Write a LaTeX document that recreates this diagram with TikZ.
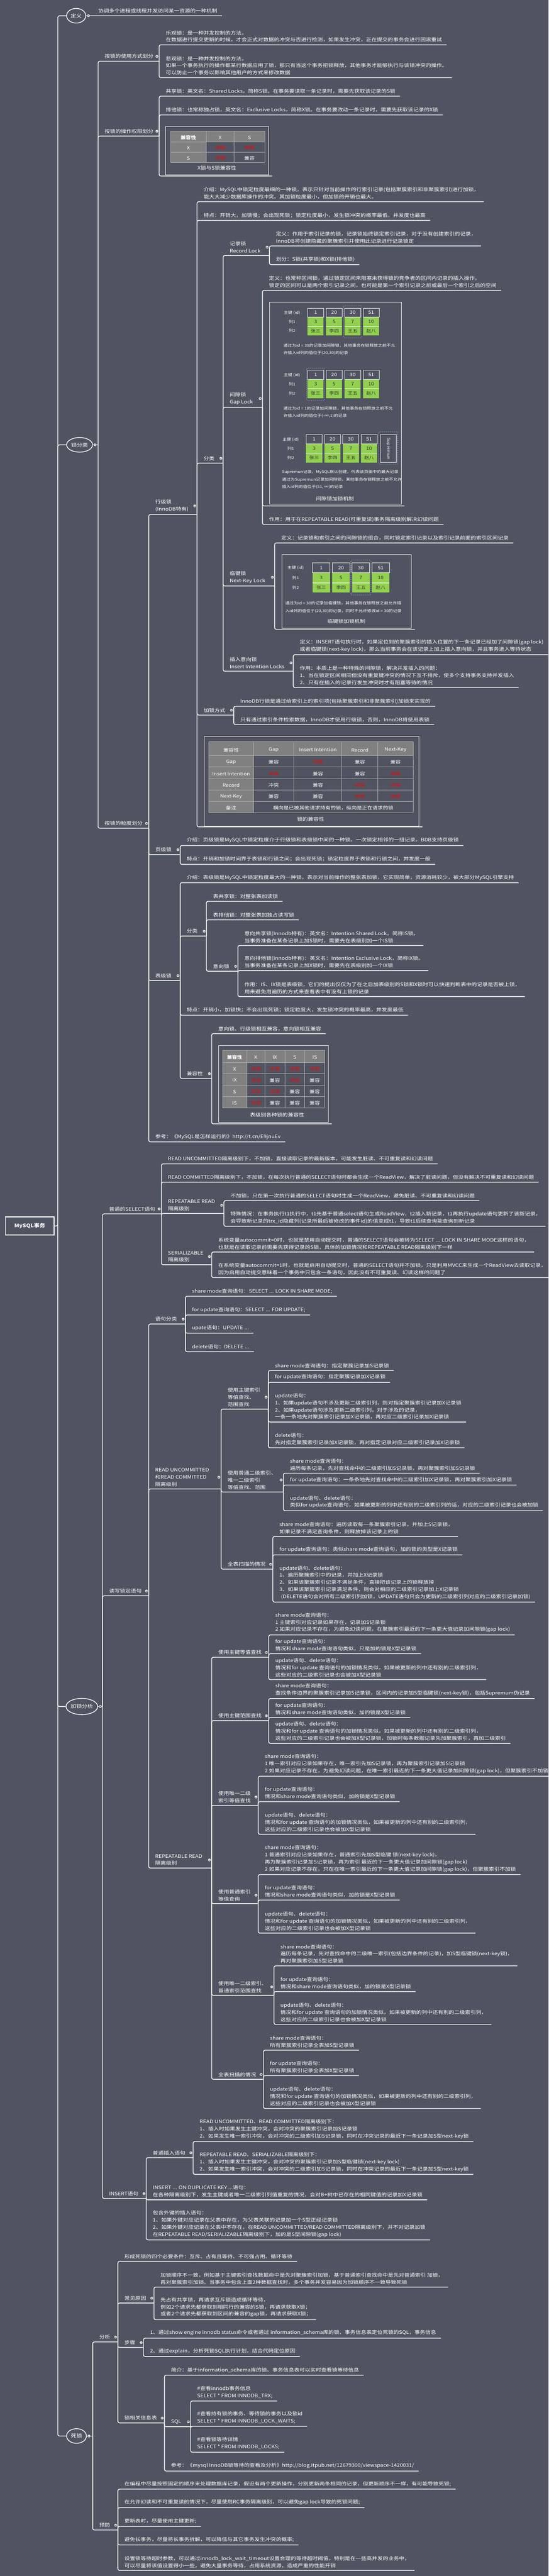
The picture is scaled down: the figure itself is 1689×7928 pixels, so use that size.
\documentclass[tikz,border=0pt]{standalone}
\usepackage{fontspec}
\setmainfont{Noto Sans CJK SC}[FakeStretch=1.15]
\usetikzlibrary{shapes.geometric}
\definecolor{bg}{RGB}{80,84,97}
\definecolor{cellgray}{RGB}{128,128,128}
\definecolor{gridc}{RGB}{168,168,168}
\definecolor{grn}{RGB}{146,208,80}
\definecolor{rd}{RGB}{255,0,0}
\definecolor{dashc}{RGB}{160,170,210}
\tikzset{
  conn/.style={draw=white, line width=2.2pt, rounded corners=5pt},
  txt/.style={text=white, font=\fontsize{14.5}{22}\selectfont, align=left, inner sep=0pt, anchor=south west},
  mk/.style={circle, draw=white!60!gray, fill=white!88!gray, minimum size=8pt, inner sep=0pt, line width=0.5pt,
    path picture={\draw[black!65, line width=0.9pt] ([xshift=-2.4pt]path picture bounding box.center) -- ([xshift=2.4pt]path picture bounding box.center);}},
  circ/.style={ellipse, draw=white, line width=2.2pt, text=white, font=\fontsize{15}{18}\selectfont, inner sep=0pt},
  imgbox/.style={draw=white!85!gray, line width=0.8pt, inner sep=0pt, anchor=north west},
  gridl/.style={draw=gridc, line width=1.1pt},
  ct/.style={text=white, font=\fontsize{14}{16}\selectfont, inner sep=0pt},
  cr/.style={ct, text=rd},
  capt/.style={text=white, font=\fontsize{14.5}{16}\selectfont, inner sep=0pt},
  smalltxt/.style={text=white, font=\fontsize{11.5}{13}\selectfont, inner sep=0pt, anchor=west},
  celltop/.style={draw=white!78!gray, fill=bg, line width=1pt},
  dnum/.style={text=white, font=\fontsize{14}{16}\selectfont, inner sep=0pt},
  dgr/.style={text=black!80, font=\fontsize{14}{16}\selectfont, inner sep=0pt},
  dgrs/.style={text=black!80, font=\fontsize{13}{15}\selectfont, inner sep=0pt},
  dlab/.style={text=white, font=\fontsize{11.5}{13}\selectfont, inner sep=0pt},
  dsh/.style={draw=dashc, dashed, line width=1pt, rounded corners=4pt},
}
% leaf: name, parent x, parent y, own y, text
\newcommand\mmLeaf[5]{%
  \node[txt] (#1) at ({#2+20},{#4-8}) {#5};
  \draw[conn] (#2,#3) -- (#2,#4) -- ([xshift=14pt]#1.east |- 0,#4);
}
% parent: name, parent x, parent y, own y, end x, text
\newcommand\mmPar[6]{%
  \node[txt] (#1) at ({#2+20},{#4-8}) {#6};
  \draw[conn] (#2,#3) -- (#2,#4) -- (#5,#4);
  \coordinate (#1-m) at ({#5-7},0);
  \node[mk] at (#1.center -| #1-m) {};
}
% record diagram: x0, y0, pitch, w, h, label x
\newcommand\mmRec[6]{%
  \foreach \va/\ia in {1/0,20/1,30/2,51/3}{%
    \draw[celltop] ({#1+\ia*#3},#2) rectangle ++(#4,#5);
    \node[dnum] at ({#1+\ia*#3+#4/2},{#2+#5/2}) {\va};}
  \foreach \va/\na/\ia in {3/张三/0,5/李四/1,7/王五/2,10/赵八/3}{%
    \fill[grn] ({#1+\ia*#3},{#2+#5}) rectangle ++(#4,{2*#5});
    \draw[white,line width=1pt] ({#1+\ia*#3},{#2+2*#5}) -- ++(#4,0);
    \node[dgr] at ({#1+\ia*#3+#4/2},{#2+1.5*#5}) {\va};
    \node[dgrs] at ({#1+\ia*#3+#4/2},{#2+2.5*#5}) {\na};}
  \node[dlab] at (#6,{#2+#5/2}) {主键 (id)};
  \node[dlab] at (#6,{#2+1.5*#5}) {列1};
  \node[dlab] at (#6,{#2+2.5*#5}) {列2};
}
\begin{document}
\begin{tikzpicture}[x=1pt,y=-1pt]
\useasboundingbox (0,0) rectangle (1689,7928);
\fill[bg] (0,0) rectangle (1689,7928);

% ===== root and level 1 =====
\node[draw=white, line width=2.5pt, minimum width=150pt, minimum height=55pt, text=white, font=\bfseries\fontsize{15}{18}\selectfont] (root) at (91.5,3773) {MySQL事务};
\node[circ, minimum width=59pt, minimum height=45pt] (c1) at (234.5,48.5) {定义};
\node[circ, minimum width=80pt, minimum height=45pt] (c2) at (245,1369) {锁分类};
\node[circ, minimum width=94pt, minimum height=50pt] (c3) at (252,5252) {加锁分析};
\node[circ, minimum width=61pt, minimum height=45pt] (c4) at (235.5,7497) {死锁};
\draw[conn] (root.east) -- (178,3773) -- (178,48.5) -- (c1.west);
\draw[conn] (178,3773) -- (178,1369) -- (c2.west);
\draw[conn] (178,3773) -- (178,5252) -- (c3.west);
\draw[conn] (178,3773) -- (178,7497) -- (c4.west);

% ===== 定义 =====
\node[txt] (d1) at (302,40.4) {协调多个进程或线程并发访问某一资源的一种机制};
\draw[conn] (c1.east) -- ([xshift=14pt]d1.east |- c1.east);

% ===== 锁分类 =====
\draw[conn] (c2.east) -- (302,1369);
\mmPar{b1}{302}{1369}{188.6}{490}{按锁的使用方式划分}
\mmLeaf{b1a}{490}{188.6}{138}{乐观锁：是一种并发控制的方法。\\在数据进行提交更新的时候，才会正式对数据的冲突与否进行检测，如果发生冲突，正在提交的事务会进行回滚重试}
\mmLeaf{b1b}{490}{188.6}{239}{悲观锁：是一种并发控制的方法。\\如果一个事务执行的操作都某行数据应用了锁，那只有当这个事务把锁释放，其他事务才能够执行与该锁冲突的操作。\\可以防止一个事务以影响其他用户的方式来修改数据}
\mmPar{b2}{302}{1369}{418.8}{490}{按锁的操作权限划分}
\mmLeaf{b2a}{490}{418.8}{296}{共享锁：英文名：Shared Locks，简称S锁。在事务要读取一条记录时，需要先获取该记录的S锁}
\mmLeaf{b2b}{490}{418.8}{353.6}{排他锁：也常称独占锁，英文名：Exclusive Locks，简称X锁。在事务要改动一条记录时，需要先获取该记录的X锁}
\node[imgbox, minimum width=316.5pt, minimum height=149pt] (b2c) at (509.5,388.5) {};
\draw[conn] (490,418.8) -- (490,541.7) -- ([xshift=11pt]b2c.south east |- 0,541.7);
\fill[cellgray] (524.6,402.8) rectangle (815.4,436.5);
\fill[cellgray] (524.6,436.5) rectangle (635.5,500);
\foreach \yy in {402.8,436.5,468,500} \draw[gridl] (524.6,\yy) -- (815.4,\yy);
\foreach \xx in {524.6,635.5,720.6,815.4} \draw[gridl] (\xx,402.8) -- (\xx,500);
\node[ct, font=\bfseries\fontsize{14}{16}\selectfont] at (580,423) {兼容性};
\node[ct] at (678,423) {X};
\node[ct] at (768,423) {S};
\node[ct] at (580,455) {X};
\node[cr] at (678,455) {冲突};
\node[cr] at (768,455) {冲突};
\node[ct] at (580,487) {S};
\node[cr] at (678,487) {冲突};
\node[ct] at (768,487) {兼容};
\node[capt] at (668,517) {X锁与S锁兼容性};

\mmPar{b3}{302}{1369}{2549}{458}{按锁的粒度划分}

% --- 行级锁
\mmPar{r}{458}{2549}{1583.5}{606.5}{行级锁\\(InnoDB特有)}
\mmLeaf{r1}{606.5}{1583.5}{620.8}{介绍：MySQL中锁定粒度最细的一种锁，表示只针对当前操作的行索引记录(包括聚簇索引和非聚簇索引)进行加锁，\\能大大减少数据库操作的冲突。其加锁粒度最小，但加锁的开销也最大。}
\mmLeaf{r2}{606.5}{1583.5}{678.2}{特点：开销大，加锁慢；会出现死锁；锁定粒度最小，发生锁冲突的概率最低，并发度也最高}
\mmPar{rf}{606.5}{1583.5}{1425.4}{687}{分类}
\mmPar{rec}{687}{1425.4}{786.2}{829.5}{记录锁\\Record Lock}
\mmLeaf{rec1}{829.5}{786.2}{757}{定义：作用于索引记录的锁，记录锁始终锁定索引记录，对于没有创建索引的记录，\\InnoDB将创建隐藏的聚簇索引并使用此记录进行记录锁定}
\mmLeaf{rec2}{829.5}{786.2}{814.3}{划分：S锁(共享锁)和X锁(排他锁)}
\mmPar{gap}{687}{1425.4}{1253.7}{808}{间隙锁\\Gap Lock}
\mmLeaf{gap1}{808}{1253.7}{893.7}{定义：也常称区间锁，通过锁定区间来阻塞未获得锁的竞争者的区间内记录的插入操作。\\锁定的区间可以是两个索引记录之间，也可能是第一个索引记录之前或最后一个索引之后的空间}
\node[imgbox, minimum width=405pt, minimum height=623pt] (gap2) at (829.5,928.4) {};
\draw[conn] (808,1253.7) -- (808,1557) -- ([xshift=10pt]gap2.south east |- 0,1557);
\mmRec{947}{948}{57}{49.5}{28}{899}
\draw[dsh] (1058,940.5) rectangle (1113.5,1040);
\node[smalltxt] at (872.5,1063.7) {通过为id = 30的记录加间隙锁，其他事务在锁释放之前不允};
\node[smalltxt] at (872.5,1086.7) {许插入id列的值位于(20,30)的记录};
\mmRec{947}{1139.6}{57}{49.5}{28.6}{899}
\draw[dsh] (944,1132.7) rectangle (1000,1232.5);
\node[smalltxt] at (872.5,1256.7) {通过为id = 1的记录加间隙锁，其他事务在锁释放之前不允};
\node[smalltxt] at (872.5,1279.3) {许插入id列的值位于(-∞,1)的记录};
\mmRec{942.5}{1337.8}{56.4}{49.5}{28.5}{895}
\draw[draw=white!78!gray, line width=1pt] (1171,1337.8) rectangle (1220.5,1423.2);
\node[text=white, font=\fontsize{12}{14}\selectfont, rotate=-90, inner sep=0pt] at (1195.7,1380.5) {Supremun};
\draw[dsh] (1166.6,1328.8) rectangle (1224.8,1428.8);
\node[smalltxt] at (868,1453.6) {Supremun记录，MySQL默认创建，代表该页面中的最大记录};
\node[smalltxt] at (868,1475.8) {通过为Supremun记录加间隙锁，其他事务在锁释放之前不允许};
\node[smalltxt] at (868,1498) {插入id列的值位于(51, ∞)的记录};
\node[capt] at (1031,1534.3) {间隙锁加锁机制};
\mmLeaf{gap3}{808}{1253.7}{1614.2}{作用：用于在REPEATABLE READ(可重复读)事务隔离级别解决幻读问题}
\mmPar{nk}{687}{1425.4}{1803.5}{845.6}{临键锁\\Next-Key Lock}
\mmLeaf{nk1}{845.6}{1803.5}{1671}{定义：记录锁和索引之间的间隙锁的组合，同时锁定索引记录以及索引记录前面的索引区间记录}
\node[imgbox, minimum width=397.7pt, minimum height=226.5pt] (nk2) at (868,1706.5) {};
\draw[conn] (845.6,1803.5) -- (845.6,1936.8) -- ([xshift=10.8pt]nk2.south east |- 0,1936.8);
\mmRec{962}{1732}{61}{54}{30.7}{910}
\draw[dsh] (1080.5,1723.6) rectangle (1142,1831.3);
\node[smalltxt] at (878,1856) {通过为id = 30的记录加临键锁，其他事务在锁释放之前允许插};
\node[smalltxt] at (878,1880.5) {入id列的值位于(20,30)的记录，同时不允许修改id = 30的记录};
\node[capt] at (1066.5,1911.6) {临键锁加锁机制};
\mmPar{ii}{687}{1425.4}{2065.7}{902.7}{插入意向锁\\Insert Intention Locks}
\mmLeaf{ii1}{902.7}{2065.7}{2014.9}{定义：INSERT语句执行时，如果定位到的聚簇索引的插入位置的下一条记录已经加了间隙锁(gap lock)\\或者临键锁(next-key lock)，那么当前事务会在该记录上加上插入意向锁，并且事务进入等待状态}
\mmLeaf{ii2}{902.7}{2065.7}{2116}{作用：本质上是一种特殊的间隙锁，解决并发插入的问题：\\1、当在锁定区间相同但没有重复键冲突的情况下互不排斥，使多个支持事务支持并发插入\\2、只有在插入的记录行发生冲突时才有阻塞等待的情况}
\mmPar{rw}{606.5}{1583.5}{2200.7}{719.6}{加锁方式}
\mmLeaf{rw1}{719.6}{2200.7}{2173.8}{InnoDB行锁是通过给索引上的索引项(包括聚簇索引和非聚簇索引)加锁来实现的}
\mmLeaf{rw2}{719.6}{2200.7}{2229.8}{只有通过索引条件检索数据，InnoDB才使用行级锁，否则，InnoDB将使用表锁}
\node[imgbox, minimum width=661pt, minimum height=275.3pt] (rt) at (628,2265.7) {};
\draw[conn] (606.5,1583.5) -- (606.5,2544.7) -- ([xshift=11pt]rt.south east |- 0,2544.7);
\fill[cellgray] (643,2282.8) rectangle (1272,2325.5);
\fill[cellgray] (643,2325.5) rectangle (780,2501);
\foreach \yy in {2282.8,2325.5,2360.5,2395.6,2430.6,2465.7,2501} \draw[gridl] (643,\yy) -- (1272,\yy);
\foreach \xx in {643,780,1272} \draw[gridl] (\xx,2282.8) -- (\xx,2501);
\foreach \xx in {905,1052.4,1163.3} \draw[gridl] (\xx,2282.8) -- (\xx,2465.7);
\node[ct] at (711.5,2308) {兼容性};
\node[ct] at (842.5,2308) {Gap};
\node[ct] at (978.7,2308) {Insert Intention};
\node[ct] at (1107.9,2308) {Record};
\node[ct] at (1217.7,2308) {Next-Key};
\node[ct] at (711.5,2346) {Gap};
\node[ct] at (842.5,2346) {兼容};
\node[cr] at (978.7,2346) {冲突};
\node[ct] at (1107.9,2346) {兼容};
\node[ct] at (1217.7,2346) {兼容};
\node[ct] at (711.5,2381) {Insert Intention};
\node[cr] at (842.5,2381) {冲突};
\node[ct] at (978.7,2381) {兼容};
\node[ct] at (1107.9,2381) {兼容};
\node[cr] at (1217.7,2381) {冲突};
\node[ct] at (711.5,2416) {Record};
\node[ct] at (842.5,2416) {冲突};
\node[ct] at (978.7,2416) {兼容};
\node[cr] at (1107.9,2416) {冲突};
\node[cr] at (1217.7,2416) {冲突};
\node[ct] at (711.5,2451) {Next-Key};
\node[ct] at (842.5,2451) {兼容};
\node[ct] at (978.7,2451) {兼容};
\node[cr] at (1107.9,2451) {冲突};
\node[cr] at (1217.7,2451) {冲突};
\node[ct] at (711.5,2486) {备注};
\node[ct] at (1026,2486) {横向是已被其他请求持有的锁，纵向是正在请求的锁};
\node[capt] at (956.5,2520.4) {锁的兼容性};

% --- 页级锁
\mmPar{pg}{458}{2549}{2630}{554.8}{页级锁}
\mmLeaf{pg1}{554.8}{2630}{2602.4}{介绍：页级锁是MySQL中锁定粒度介于行级锁和表级锁中间的一种锁。一次锁定相邻的一组记录。BDB支持页级锁}
\mmLeaf{pg2}{554.8}{2630}{2660}{特点：开销和加锁时间界于表锁和行锁之间；会出现死锁；锁定粒度界于表锁和行锁之间，并发度一般}

% --- 表级锁
\mmPar{tb}{458}{2549}{3017.6}{554.8}{表级锁}
\mmLeaf{tb1}{554.8}{3017.6}{2716.7}{介绍：表级锁是MySQL中锁定粒度最大的一种锁，表示对当前操作的整张表加锁，它实现简单，资源消耗较少，被大部分MySQL引擎支持}
\mmPar{tbf}{554.8}{3017.6}{2880.8}{635.5}{分类}
\mmLeaf{tbf1}{635.5}{2880.8}{2774}{表共享锁：对整张表加读锁}
\mmLeaf{tbf2}{635.5}{2880.8}{2830.8}{表排他锁：对整张表加独占读写锁}
\mmPar{yx}{635.5}{2880.8}{2989}{732.5}{意向锁}
\mmLeaf{yx1}{732.5}{2989}{2909.9}{意向共享锁(Innodb特有)：英文名：Intention Shared Lock，简称IS锁。\\当事务准备在某条记录上加S锁时，需要先在表级别加一个IS锁}
\mmLeaf{yx2}{732.5}{2989}{2987}{意向排他锁(Innodb特有)：英文名：Intention Exclusive Lock，简称IX锁。\\当事务准备在某条记录上加X锁时，需要先在表级别加一个IX锁}
\mmLeaf{yx3}{732.5}{2989}{3067}{作用：IS、IX锁是表级锁，它们的提出仅仅为了在之后加表级别的S锁和X锁时可以快速判断表中的记录是否被上锁，\\用来避免用遍历的方式来查看表中有没有上锁的记录}
\mmLeaf{tb2}{554.8}{3017.6}{3124.4}{特点：开销小，加锁快；不会出现死锁；锁定粒度大，发生锁冲突的概率最高，并发度最低}
\mmPar{tbc}{554.8}{3017.6}{3319}{651.7}{兼容性}
\mmLeaf{tbc1}{651.7}{3319}{3181.2}{意向锁、行级锁相互兼容，意向锁相互兼容}
\node[imgbox, minimum width=337.4pt, minimum height=237pt] (tbc2) at (673,3216.7) {};
\draw[conn] (651.7,3319) -- (651.7,3458.8) -- ([xshift=10.6pt]tbc2.south east |- 0,3458.8);
\fill[cellgray] (685,3231.2) rectangle (999.7,3269.7);
\fill[cellgray] (685,3269.7) rectangle (759.4,3408.8);
\foreach \yy in {3231.2,3269.7,3304,3339,3374,3408.8} \draw[gridl] (685,\yy) -- (999.7,\yy);
\foreach \xx in {685,759.4,815.4,876.8,938.2,999.7} \draw[gridl] (\xx,3231.2) -- (\xx,3408.8);
\node[ct, font=\bfseries\fontsize{13.5}{16}\selectfont] at (722.2,3253.5) {兼容性};
\node[ct] at (787.4,3253.5) {X};
\node[ct] at (846.1,3253.5) {IX};
\node[ct] at (907.5,3253.5) {S};
\node[ct] at (969,3253.5) {IS};
\node[ct] at (722.2,3290) {X};
\node[cr] at (787.4,3290) {冲突};
\node[cr] at (846.1,3290) {冲突};
\node[cr] at (907.5,3290) {冲突};
\node[cr] at (969,3290) {冲突};
\node[ct] at (722.2,3324.5) {IX};
\node[cr] at (787.4,3324.5) {冲突};
\node[ct] at (846.1,3324.5) {兼容};
\node[cr] at (907.5,3324.5) {冲突};
\node[ct] at (969,3324.5) {兼容};
\node[ct] at (722.2,3359.5) {S};
\node[cr] at (787.4,3359.5) {冲突};
\node[cr] at (846.1,3359.5) {冲突};
\node[ct] at (907.5,3359.5) {兼容};
\node[ct] at (969,3359.5) {兼容};
\node[ct] at (722.2,3394.4) {IS};
\node[cr] at (787.4,3394.4) {冲突};
\node[ct] at (846.1,3394.4) {兼容};
\node[ct] at (907.5,3394.4) {兼容};
\node[ct] at (969,3394.4) {兼容};
\node[capt] at (853,3431.9) {表级别各种锁的兼容性};
\mmLeaf{ref1}{458}{2549}{3514.3}{参考：《MySQL是怎样运行的》http://t.cn/E9jnuEv}

% ===== 加锁分析 =====
\draw[conn] (c3.east) -- (315.6,5252);
\mmPar{s}{315.6}{5252}{3735.7}{497}{普通的SELECT语句}
\mmLeaf{s1}{497}{3735.7}{3581.8}{READ UNCOMMITTED隔离级别下，不加锁，直接读取记录的最新版本，可能发生脏读、不可重复读和幻读问题}
\mmLeaf{s2}{497}{3735.7}{3638.3}{READ COMMITTED隔离级别下，不加锁，在每次执行普通的SELECT语句时都会生成一个ReadView，解决了脏读问题，但没有解决不可重复读和幻读问题}
\mmPar{s3}{497}{3735.7}{3734.4}{689.4}{REPEATABLE READ\\隔离级别}
\mmLeaf{s31}{689.4}{3734.4}{3695}{不加锁，只在第一次执行普通的SELECT语句时生成一个ReadView，避免脏读、不可重复读和幻读问题}
\mmLeaf{s32}{689.4}{3734.4}{3774}{特殊情况：在事务执行t1执行中，t1先基于普通select语句生成ReadView，t2插入新记录，t1再执行update语句更新了该新记录，\\会导致新记录的trx\_id隐藏列(记录所最后被修改的事件id)的值变成t1，导致t1后续查询能查询到新记录}
\mmPar{s4}{497}{3735.7}{3892.5}{651.7}{SERIALIZABLE\\隔离级别}
\mmLeaf{s41}{651.7}{3892.5}{3853.2}{系统变量autocommit=0时，也就是禁用自动提交时，普通的SELECT语句会被转为SELECT ... LOCK IN SHARE MODE这样的语句，\\也就是在读取记录前需要先获得记录的S锁，具体的加锁情况和REPEATABLE READ隔离级别下一样}
\mmLeaf{s42}{651.7}{3892.5}{3931.8}{在系统变量autocommit=1时，也就是启用自动提交时，普通的SELECT语句并不加锁，只是利用MVCC来生成一个ReadView去读取记录，\\因为启用自动提交意味着一个事务中只包含一条语句，因此没有不可重复读、幻读这样的问题了}

\mmPar{w}{315.6}{5252}{4911.2}{457.8}{读写锁定语句}
\mmPar{w1}{457.8}{4911.2}{4074.8}{571}{语句分类}
\mmLeaf{w11}{571}{4074.8}{3989.3}{share mode查询语句：SELECT ... LOCK IN SHARE MODE;}
\mmLeaf{w12}{571}{4074.8}{4047}{for update查询语句：SELECT ... FOR UPDATE;}
\mmLeaf{w13}{571}{4074.8}{4103}{upate语句：UPDATE ...}
\mmLeaf{w14}{571}{4074.8}{4160}{delete语句：DELETE ...}
\mmPar{w2}{457.8}{4911.2}{4582.4}{680.8}{READ UNCOMMITTED\\和READ COMMITTED\\隔离级别}
\mmPar{w21}{680.8}{4582.4}{4336.7}{826.2}{使用主键索引\\等值查找、\\范围查找}
\mmLeaf{w211}{826.2}{4336.7}{4218}{share mode查询语句：指定聚簇记录加S记录锁}
\mmLeaf{w212}{826.2}{4336.7}{4254.2}{for update查询语句：指定聚簇记录加X记录锁}
\mmLeaf{w213}{826.2}{4336.7}{4376.4}{update语句：\\1、如果update语句不涉及更新二级索引列，则对指定聚簇索引记录加X记录锁\\2、如果update语句涉及更新二级索引列，对于涉及的记录，\\一条一条地先对聚簇索引记录加X记录锁，再对应二级索引记录加X记录锁}
\mmLeaf{w214}{826.2}{4336.7}{4455.5}{delete语句：\\先对指定聚簇索引记录加X记录锁，再对指定记录对应二级索引记录加X记录锁}
\mmPar{w22}{680.8}{4582.4}{4591.8}{872.5}{使用普通二级索引、\\唯一二级索引\\等值查找、范围}
\mmLeaf{w221}{872.5}{4591.8}{4534}{share mode查询语句：\\遍历每条记录，先对查找命中的二级索引加S记录锁，再对聚簇索引加S记录锁}
\mmLeaf{w222}{872.5}{4591.8}{4570.4}{for update查询语句：一条条地先对查找命中的二级索引加X记录锁，再对聚簇索引加X记录锁}
\mmLeaf{w223}{872.5}{4591.8}{4649.3}{update语句、delete语句：\\类似for update查询语句，如果被更新的列中还有别的二级索引列的话，对应的二级索引记录也会被加锁}
\mmPar{w23}{680.8}{4582.4}{4829.2}{840}{全表扫描的情况}
\mmLeaf{w231}{840}{4829.2}{4728.8}{share mode查询语句：遍历读取每一条聚簇索引记录，并加上S记录锁，\\如果记录不满足查询条件，则释放掉该记录上的锁}
\mmLeaf{w232}{840}{4829.2}{4785.2}{for update查询语句：类似share mode查询语句，加的锁的类型是X记录锁}
\mmLeaf{w233}{840}{4829.2}{4930.5}{update语句、delete语句：\\1、遍历聚簇索引中的记录，并加上X记录锁\\2、如果该聚簇索引记录不满足条件，直接把该记录上的锁释放掉\\3、如果该聚簇索引记录满足条件，则会对相应的二级索引记录加上X记录锁\\\hspace{5pt}(DELETE语句会对所有二级索引列加锁，UPDATE语句只会为更新的二级索引列对应的二级索引记录加锁)}
\mmPar{w3}{457.8}{4911.2}{5749.2}{651.7}{REPEATABLE READ\\隔离级别}
\mmPar{w31}{651.7}{5749.2}{5100.5}{827.3}{使用主键等值查找}
\mmLeaf{w311}{827.3}{5100.5}{5031.7}{share mode查询语句：\\1 主键索引对应记录如果存在，记录加S记录锁\\2 如果对应记录不存在，为避免幻读问题，在聚簇索引最近的下一条更大值记录加间隙锁(gap lock)}
\mmLeaf{w312}{827.3}{5100.5}{5089.4}{for update查询语句：\\情况和share mode查询语句类似，只是加的锁是X型记录锁}
\mmLeaf{w313}{827.3}{5100.5}{5169}{update语句、delete语句：\\情况和for update 查询语句的加锁情况类似，如果被更新的列中还有别的二级索引列，\\这些对应的二级索引记录也会被加X型记录锁}
\mmPar{w32}{651.7}{5749.2}{5295.4}{827.3}{使用主键范围查找}
\mmLeaf{w321}{827.3}{5295.4}{5227.4}{share mode查询语句：\\查找条件边界的聚簇索引记录加S记录锁，区间内的记录加S型临键锁(next-key锁)，包括Supremum伪记录}
\mmLeaf{w322}{827.3}{5295.4}{5285.7}{for update查询语句：\\情况和share mode查询语句类似，加的锁是X型记录锁}
\mmLeaf{w323}{827.3}{5295.4}{5365.4}{update语句、delete语句：\\情况和for update 查询语句的加锁情况类似，如果被更新的列中还有别的二级索引列，\\这些对应的二级索引记录也会被加X型记录锁，加锁时每条数据记录先加聚簇索引，再加二级索引}
\mmPar{w33}{651.7}{5749.2}{5556.3}{795}{使用唯一二级\\索引等值查找}
\mmLeaf{w331}{795}{5556.3}{5466.4}{share mode查询语句：\\1 唯一索引对应记录如果存在，唯一索引先加S记录锁，再为聚簇索引记录加S记录锁\\2 如果对应记录不存在，为避免幻读问题，在唯一索引最近的下一条更大值记录加间隙锁(gap lock)，但聚簇索引不加锁}
\mmLeaf{w332}{795}{5556.3}{5544.8}{for update查询语句：\\情况和share mode查询语句类似，加的锁是X型记录锁}
\mmLeaf{w333}{795}{5556.3}{5645.3}{update语句、delete语句：\\情况和for update 查询语句的加锁情况类似，如果被更新的列中还有别的二级索引列，\\这些对应的二级索引记录也会被加X型记录锁}
\mmPar{w34}{651.7}{5749.2}{5858.6}{795}{使用普通索引\\等值查询}
\mmLeaf{w341}{795}{5858.6}{5769.2}{share mode查询语句：\\1 普通索引对应记录如果存在，普通索引先加S型临键 锁(next-key lock)，\\再为聚簇索引记录加S记录锁，再为索引 最近的下一条更大值记录加间隙锁(gap lock)\\2 如果对应记录不存在，只在在唯一索引最近的下一条更大值记录加间隙锁(gap lock)，但聚簇索引不加锁}
\mmLeaf{w342}{795}{5858.6}{5847.6}{for update查询语句：\\情况和share mode查询语句类似，加的锁是X型记录锁}
\mmLeaf{w343}{795}{5858.6}{5949.4}{update语句、delete语句：\\情况和for update 查询语句的加锁情况类似，如果被更新的列中还有别的二级索引列，\\这些对应的二级索引记录也会被加X型记录锁}
\mmPar{w35}{651.7}{5749.2}{6140.8}{843.5}{使用唯一二级索引、\\普通索引范围查找}
\mmLeaf{w351}{843.5}{6140.8}{6050.2}{share mode查询语句：\\遍历每条记录，先对查找命中的二级唯一索引(包括边界条件的记录)，加S型临键锁(next-key锁)，\\再对聚簇索引加S型记录锁}
\mmLeaf{w352}{843.5}{6140.8}{6129.2}{for update查询语句：\\情况和share mode查询语句类似，加的锁是X型记录锁}
\mmLeaf{w353}{843.5}{6140.8}{6230.5}{update语句、delete语句：\\情况和for update 查询语句的加锁情况类似，如果被更新的列中还有别的二级索引列，\\这些对应的二级索引记录也会被加X型记录锁}
\mmPar{w36}{651.7}{5749.2}{6399.3}{811}{全表扫描的情况}
\mmLeaf{w361}{811}{6399.3}{6309.6}{share mode查询语句：\\所有聚簇索引记录全表加S型记录锁}
\mmLeaf{w362}{811}{6399.3}{6387.8}{for update查询语句：\\所有聚簇索引记录全表加X型记录锁}
\mmLeaf{w363}{811}{6399.3}{6489}{update语句、delete语句：\\情况和for update 查询语句的加锁情况类似，如果被更新的列中还有别的二级索引列，\\这些对应的二级索引记录也会被加X型记录锁}

\mmPar{ins}{315.6}{5252}{6766}{450.3}{INSERT语句}
\mmPar{ins1}{450.3}{6766}{6640.4}{594.6}{普通插入语句}
\mmLeaf{ins11}{594.6}{6640.4}{6590.7}{READ UNCOMMITTED、READ COMMITTED隔离级别下：\\1、插入时如果发生主键冲突，会对冲突的聚簇索引记录加S记录锁\\2、如果发生唯一索引冲突，会对冲突的二级索引加S记录锁，同时在冲突记录的最近下一条记录加S型next-key锁}
\mmLeaf{ins12}{594.6}{6640.4}{6691.7}{REPEATABLE READ、SERIALIZABLE隔离级别下：\\1、插入时如果发生主键冲突，会对冲突的聚簇索引记录加S型临键锁(next-key lock)\\2、如果发生唯一索引冲突，会对冲突的二级索引加S记录锁，同时在冲突记录的最近下一条记录加S型next-key锁}
\mmLeaf{ins2}{450.3}{6766}{6770.3}{INSERT ... ON DUPLICATE KEY ...语句：\\在各种隔离级别下，发生主键或者唯一二级索引列值重复的情况，会对B+树中已存在的相同键值的记录加X记录锁}
\mmLeaf{ins3}{450.3}{6766}{6893.4}{包含外键的插入语句：\\1、如果外键对应记录在父表中存在，为父表关联的记录加一个S型正经记录锁\\2、如果外键对应记录在父表中不存在，在READ UNCOMMITTED/READ COMMITTED隔离级别下，并不对记录加锁\\在REPEATABLE READ/SERIALIZABLE隔离级别下，加的是S型间隙锁(gap lock)}

% ===== 死锁 =====
\draw[conn] (c4.east) -- (285.5,7497);
\mmPar{a}{285.5}{7497}{7207.5}{363}{分析}
\mmLeaf{a1}{363}{7207.5}{6959.6}{形成死锁的四个必要条件：互斥、占有且等待、不可强占用、循环等待}
\mmPar{a2}{363}{7207.5}{7087.8}{474}{常见原因}
\mmLeaf{a21}{474}{7087.8}{7038.7}{加锁顺序不一致，例如基于主键索引查找数据命中是先对聚簇索引加锁，基于普通索引查找命中是先对普通索引 加锁，\\再对聚簇索引加锁。当事务中包含上面2种数据查找时，多个事务并发容易因为加锁顺序不一致导致死锁}
\mmLeaf{a22}{474}{7087.8}{7139}{先占有共享锁，再请求互斥锁造成循环等待，\\例如2个请求先都获取到相同行的兼容的S锁，再请求获取X锁；\\或者2个请求先都获取到区间的兼容的gap锁，再请求获取X锁；}
\mmPar{a3}{363}{7207.5}{7224.5}{441.6}{步骤}
\mmLeaf{a31}{441.6}{7224.5}{7196}{1、通过show engine innodb status命令或者通过 information\_schema库的锁、事务信息表定位死锁的SQL，事务信息}
\mmLeaf{a32}{441.6}{7224.5}{7252.3}{2、通过explain，分析死锁SQL执行计划，结合代码定位原因}
\mmPar{a4}{363}{7207.5}{7456.7}{506.3}{锁相关信息表}
\mmLeaf{a41}{506.3}{7456.7}{7310}{简介：基于information\_schema库的锁、事务信息表可以实时查看锁等待信息}
\mmPar{a42}{506.3}{7456.7}{7468.3}{587}{SQL}
\mmLeaf{a421}{587}{7468.3}{7389.3}{\#查看innodb事务信息\\SELECT * FROM INNODB\_TRX;}
\mmLeaf{a422}{587}{7468.3}{7467.3}{\#查看持有锁的事务、等待锁的事务以及锁id\\SELECT * FROM INNODB\_LOCK\_WAITS;}
\mmLeaf{a423}{587}{7468.3}{7546.9}{\#查看锁等待详情\\SELECT * FROM INNODB\_LOCKS;}
\mmLeaf{a43}{506.3}{7456.7}{7604.8}{参考：《mysql InnoDB锁等待的查看及分析》http://blog.itpub.net/12679300/viewspace-1420031/}
\mmPar{p}{285.5}{7497}{7786.3}{363}{预防}
\mmLeaf{p1}{363}{7786.3}{7660.6}{在编程中尽量按照固定的顺序来处理数据库记录，假设有两个更新操作，分别更新两条相同的记录，但更新顺序不一样，有可能导致死锁;}
\mmLeaf{p2}{363}{7786.3}{7717.7}{在允许幻读和不可重复读的情况下，尽量使用RC事务隔离级别，可以避免gap lock导致的死锁问题;}
\mmLeaf{p3}{363}{7786.3}{7775.2}{更新表时，尽量使用主键更新;}
\mmLeaf{p4}{363}{7786.3}{7832.3}{避免长事务，尽量将长事务拆解，可以降低与其它事务发生冲突的概率;}
\mmLeaf{p5}{363}{7786.3}{7910.8}{设置锁等待超时参数，可以通过innodb\_lock\_wait\_timeout设置合理的等待超时阈值，特别是在一些高并发的业务中，\\可以尽量将该值设置得小一些，避免大量事务等待，占用系统资源，造成严重的性能开销}

% circle markers
\node[mk] at ([xshift=7pt]c1.east) {};
\node[mk] at ([xshift=6pt]c2.east) {};
\node[mk] at ([xshift=7pt]c3.east) {};
\node[mk] at ([xshift=7pt]c4.east) {};
\end{tikzpicture}
\end{document}
